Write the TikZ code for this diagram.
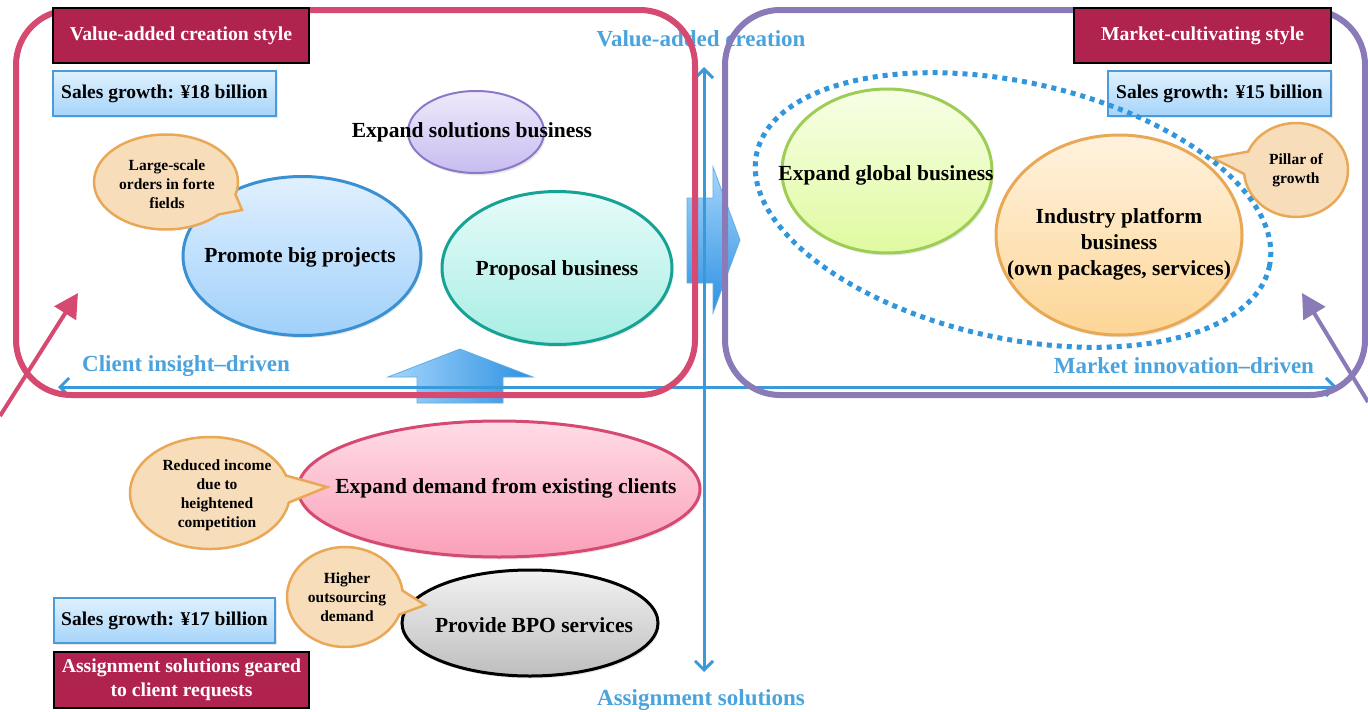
\documentclass[tikz,border=0pt]{standalone}
\usepackage{fontspec}
\setmainfont{Liberation Serif}
\usetikzlibrary{shapes.geometric,shapes.callouts,arrows.meta,shadows}
\definecolor{hdrRed}{RGB}{176,35,78}
\definecolor{frPink}{RGB}{214,74,114}
\definecolor{frPurple}{RGB}{139,122,184}
\definecolor{axBlue}{RGB}{58,154,217}
\definecolor{lblBlue}{RGB}{75,163,222}
\definecolor{salesBorder}{RGB}{75,155,220}
\definecolor{salesTop}{RGB}{224,241,253}
\definecolor{salesBot}{RGB}{165,212,250}
\definecolor{pbpBorder}{RGB}{58,145,210}
\definecolor{pbpTop}{RGB}{224,240,255}
\definecolor{pbpBot}{RGB}{160,208,250}
\definecolor{propBorder}{RGB}{22,162,148}
\definecolor{propTop}{RGB}{230,251,249}
\definecolor{propBot}{RGB}{168,238,228}
\definecolor{solBorder}{RGB}{140,120,200}
\definecolor{solTop}{RGB}{238,234,251}
\definecolor{solBot}{RGB}{200,188,240}
\definecolor{globBorder}{RGB}{158,205,85}
\definecolor{globTop}{RGB}{247,255,230}
\definecolor{globBot}{RGB}{224,250,160}
\definecolor{indBorder}{RGB}{232,168,85}
\definecolor{indTop}{RGB}{255,242,222}
\definecolor{indBot}{RGB}{253,214,150}
\definecolor{demBorder}{RGB}{214,74,114}
\definecolor{demTop}{RGB}{255,220,230}
\definecolor{demBot}{RGB}{250,160,185}
\definecolor{bpoTop}{RGB}{242,242,242}
\definecolor{bpoBot}{RGB}{190,190,190}
\definecolor{calFill}{RGB}{248,221,186}
\definecolor{calBorder}{RGB}{232,168,85}
\definecolor{dotBlue}{RGB}{50,150,220}
\definecolor{blkLight}{RGB}{165,213,252}
\definecolor{blkDark}{RGB}{45,145,225}
\begin{document}
\begin{tikzpicture}[x=1pt,y=-1pt,
  ell/.style={ellipse, inner sep=0pt, outer sep=0pt, line width=3pt,
    drop shadow={opacity=0.18, shadow xshift=1.5pt, shadow yshift=-2.5pt}},
  maintxt/.style={font=\bfseries\fontsize{21.5}{26}\selectfont, align=center, inner sep=0pt},
  caltxt/.style={font=\bfseries\fontsize{15.5}{19}\selectfont, align=center, inner sep=0pt},
  callbub/.style={ellipse callout, draw=calBorder, fill=calFill, line width=2.5pt, inner sep=0pt,
    callout pointer arc=28},
  hdr/.style={draw=black, line width=1.2pt, fill=hdrRed, text=white,
    font=\bfseries\fontsize{19.7}{23.5}\selectfont, inner sep=0pt, align=center},
  sales/.style={draw=salesBorder, line width=1.5pt, top color=salesTop, bottom color=salesBot,
    font=\bfseries\fontsize{19.5}{23}\selectfont, inner sep=0pt,
    drop shadow={opacity=0.18, shadow xshift=1.5pt, shadow yshift=-2pt}},
  axlbl/.style={text=lblBlue, font=\bfseries\fontsize{23}{27}\selectfont, inner sep=0pt},
  axisline/.style={draw=axBlue, line width=3pt},
  barb/.tip={Straight Barb[length=9pt,width=18pt]},
  bigframe/.style={draw, line width=6pt, rounded corners=55pt, inner sep=0pt},
  blkarrow/.style={draw=axBlue!80, line width=0.8pt},
  slantarrow/.style={line width=4pt, -{Triangle[length=24pt,width=25pt]}}
]
\useasboundingbox[fill=white] (0,0) rectangle (1368,712);

% block arrows
\path[blkarrow, left color=blkLight, right color=blkDark]
  (417,403) -- (417,377) -- (388,377) -- (460,349) -- (533,377) -- (503,377) -- (503,403) -- cycle;
\path[blkarrow, top color=blkLight, bottom color=blkDark]
  (687,198) -- (713,198) -- (713,167) -- (740,240) -- (713,313) -- (713,283) -- (687,283) -- cycle;

% axes
\coordinate (vtop) at (704,67);
\coordinate (vbot) at (704,672);
\coordinate (hleft) at (58,387);
\coordinate (hright) at (1337,387);
\draw[axisline, barb-barb] (vbot) -- (vtop);
\draw[axisline, barb-barb] (hleft) -- (hright);

% axis labels
\node[axlbl] (lblTop) at (701,39) {Value-added creation};
\node[axlbl] (lblBot) at (701,700) {Assignment solutions};
\node[axlbl] (lblLeft) at (186,366) {Client insight–driven};
\node[axlbl] (lblRight) at (1184,366) {Market innovation–driven};

% ellipses
\node[ell, draw=solBorder, line width=2pt, top color=solTop, bottom color=solBot,
  minimum width=136pt, minimum height=82pt] (sol) at (476,132) {};
\node[maintxt] (solT) at (472,132) {Expand solutions business};

\node[ell, draw=pbpBorder, top color=pbpTop, bottom color=pbpBot,
  minimum width=238pt, minimum height=159pt] (pbp) at (302,256) {};
\node[maintxt] (pbpT) at (300,257) {Promote big projects};

\node[ell, draw=propBorder, top color=propTop, bottom color=propBot,
  minimum width=230pt, minimum height=153pt] (prop) at (557,268) {};
\node[maintxt] (propT) at (557,270) {Proposal business};

\node[ell, draw=globBorder, top color=globTop, bottom color=globBot,
  minimum width=210pt, minimum height=164pt] (glob) at (887,171) {};
\node[maintxt] (globT) at (886,175) {Expand global business};

\node[ell, draw=indBorder, top color=indTop, bottom color=indBot,
  minimum width=246pt, minimum height=200pt] (ind) at (1119,235) {};
\node[maintxt] (indT) at (1119,244) {Industry platform\\business\\(own packages, services)};

\node[ell, draw=demBorder, top color=demTop, bottom color=demBot,
  minimum width=402pt, minimum height=136pt] (dem) at (499,489) {};
\node[maintxt] (demT) at (506,488) {Expand demand from existing clients};

\node[ell, draw=black, top color=bpoTop, bottom color=bpoBot,
  minimum width=256pt, minimum height=106pt] (bpo) at (530,623) {};
\node[maintxt] (bpoT) at (534,625) {Provide BPO services};

% frames
\node[bigframe, draw=frPink, minimum width=679pt, minimum height=385pt] (frameL) at (355.5,202.5) {};
\node[bigframe, draw=frPurple, minimum width=640pt, minimum height=385pt] (frameR) at (1045,202.5) {};

% headers
\node[hdr, minimum width=256pt, minimum height=55pt] (hdrL) at (181,35.5) {Value-added creation style};
\node[hdr, minimum width=257pt, minimum height=55pt] (hdrR) at (1202.5,35.5) {Market-cultivating style};
\node[hdr, minimum width=255pt, minimum height=56pt] (hdrB) at (181.5,680) {Assignment solutions geared\\to client requests};

% sales boxes
\node[sales, minimum width=223pt, minimum height=45pt] (salesL) at (164.5,93.5) {Sales growth: ¥18 billion};
\node[sales, minimum width=223pt, minimum height=45pt] (salesR) at (1219.5,93.5) {Sales growth: ¥15 billion};
\node[sales, minimum width=221pt, minimum height=45pt] (salesB) at (164.5,620.5) {Sales growth: ¥17 billion};

% callouts
\coordinate (tip1) at (242,210);
\coordinate (tip2) at (1213,158);
\coordinate (tip3) at (327,487);
\coordinate (tip4) at (425,605);
\node[callbub, minimum width=144pt, minimum height=95pt, callout absolute pointer={(tip1)}] (cal1) at (166,182) {};
\node[caltxt] (cal1T) at (167,184) {Large-scale\\orders in forte\\fields};
\node[callbub, minimum width=104pt, minimum height=94pt, callout absolute pointer={(tip2)}] (cal2) at (1296,170) {};
\node[caltxt] (cal2T) at (1296,170) {Pillar of\\growth};
\node[callbub, minimum width=160pt, minimum height=112pt, callout absolute pointer={(tip3)}] (cal3) at (210,493) {};
\node[caltxt] (cal3T) at (217,495) {Reduced income\\due to\\heightened\\competition};
\node[callbub, minimum width=116pt, minimum height=100pt, callout absolute pointer={(tip4)}] (cal4) at (345,597) {};
\node[caltxt] (cal4T) at (347,597) {Higher\\outsourcing\\demand};

% dotted grouping ellipse (slightly tilted)
\node[ellipse, draw=dotBlue, line width=5pt, dash pattern=on 5pt off 5pt,
  minimum width=525pt, minimum height=256pt, inner sep=0pt, rotate=-12.5] (group) at (1013,210) {};

% slanted arrows
\coordinate (pinkStart) at (0,416);
\coordinate (pinkTip) at (78,293);
\coordinate (purpStart) at (1368,402);
\coordinate (purpTip) at (1302,293);
\draw[slantarrow, draw=frPink, fill=frPink] (pinkStart) -- (pinkTip);
\draw[slantarrow, draw=frPurple, fill=frPurple] (purpStart) -- (purpTip);
\end{tikzpicture}
\end{document}
